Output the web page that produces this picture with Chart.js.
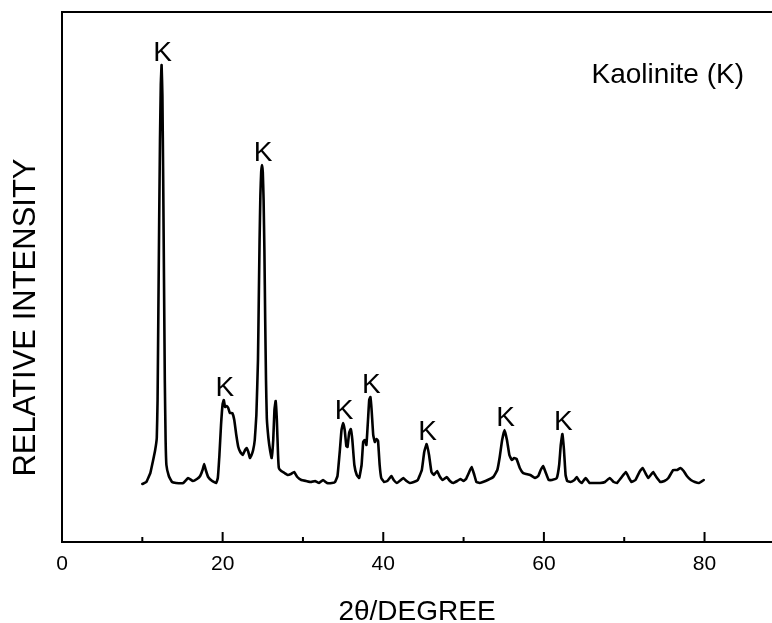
<!DOCTYPE html>
<html>
<head>
<meta charset="utf-8">
<script src="https://cdn.jsdelivr.net/npm/chart.js@4.4.1/dist/chart.umd.min.js"></script>
<style>
  body { margin: 0; background: #fff; }
  canvas { display: block; }
</style>
</head>
<body>
<canvas id="xrdChart" width="772" height="623"></canvas>
<script>
// 2θ positions (degrees) and relative intensity (arbitrary units)
const twoTheta = [
  10.0, 10.5, 11.0, 11.3, 11.6, 11.8, 11.9, 12.0, 12.1, 12.2, 12.3, 12.4, 12.5, 12.6, 12.7, 12.8, 12.9, 13.0, 13.3, 13.7,
  14.2, 15.1, 15.7, 16.3, 16.8, 17.2, 17.5, 17.7, 17.9, 18.2, 18.7, 19.2, 19.4, 19.6, 19.8, 20.0, 20.15, 20.3, 20.5, 20.7,
  20.9, 21.2, 21.45, 21.7, 21.95, 22.2, 22.5, 22.8, 23.0, 23.2, 23.4, 23.6, 23.8, 24.0, 24.2, 24.4, 24.5, 24.6, 24.7, 24.8,
  24.9, 25.0, 25.1, 25.2, 25.3, 25.4, 25.5, 25.7, 25.9, 26.1, 26.3, 26.45, 26.6, 26.75, 26.9, 27.0, 27.3, 27.7, 28.1, 28.5,
  28.9, 29.3, 29.8, 30.4, 31.0, 31.5, 32.0, 32.5, 33.0, 33.6, 34.0, 34.3, 34.6, 34.8, 35.0, 35.2, 35.4, 35.55, 35.75, 35.95,
  36.15, 36.4, 36.7, 37.0, 37.3, 37.5, 37.7, 37.9, 38.1, 38.25, 38.4, 38.55, 38.75, 38.95, 39.15, 39.35, 39.55, 39.75, 40.1, 40.5,
  40.8, 41.0, 41.3, 41.7, 42.2, 42.5, 42.9, 43.3, 43.8, 44.3, 44.8, 45.1, 45.4, 45.7, 46.0, 46.3, 46.7, 47.0, 47.4, 47.9,
  48.3, 48.7, 49.2, 49.6, 50.0, 50.3, 50.7, 51.0, 51.3, 51.6, 52.0, 52.4, 53.0, 53.7, 54.2, 54.5, 54.8, 55.1, 55.4, 55.7,
  56.0, 56.3, 56.6, 57.0, 57.4, 57.8, 58.3, 58.9, 59.3, 59.6, 59.9, 60.2, 60.6, 61.0, 61.6, 61.9, 62.1, 62.3, 62.5, 62.7,
  62.9, 63.3, 63.8, 64.1, 64.4, 64.7, 65.2, 65.7, 66.3, 67.0, 67.6, 68.2, 68.7, 69.1, 69.6, 70.2, 70.6, 70.9, 71.4, 71.9,
  72.3, 72.7, 73.0, 73.3, 73.6, 74.0, 74.5, 75.0, 75.5, 76.1, 76.6, 77.0, 77.4, 77.8, 78.3, 78.8, 79.3, 79.9
];
const intensity = [
  58, 60, 69, 80, 92, 104, 142, 232, 322, 402, 457, 477, 447, 362, 262, 162, 102, 77, 66, 60,
  59, 59, 64, 61, 63, 66, 72, 78, 72, 65, 61, 59, 64, 87, 117, 138, 142, 135, 136, 134,
  129, 129, 122, 107, 95, 90, 87, 92, 94, 90, 84, 87, 92, 102, 127, 182, 242, 302, 347, 370,
  377, 370, 342, 292, 222, 162, 124, 104, 92, 84, 102, 132, 141, 122, 87, 74, 71, 69, 67, 68,
  70, 65, 62, 61, 60, 61, 59, 62, 59, 59, 60, 66, 92, 112, 119, 112, 96, 95, 109, 113,
  102, 77, 67, 64, 77, 100, 102, 97, 122, 142, 145, 132, 107, 100, 103, 101, 77, 64, 60, 61,
  64, 66, 62, 59, 62, 64, 61, 59, 60, 62, 72, 90, 98, 87, 70, 67, 71, 66, 62, 65,
  61, 59, 61, 63, 61, 63, 70, 75, 68, 60, 59, 60, 62, 65, 72, 85, 102, 112, 102, 87,
  82, 84, 83, 74, 69, 68, 67, 64, 66, 72, 76, 70, 62, 62, 64, 77, 97, 108, 92, 67,
  61, 60, 62, 65, 61, 59, 64, 59, 59, 59, 60, 64, 60, 59, 64, 70, 64, 60, 62, 70,
  74, 68, 64, 67, 70, 65, 60, 61, 64, 72, 72, 74, 71, 66, 62, 60, 59, 62
];
// peaks marked "K" (kaolinite)
const kPeaks = [12.4, 20.15, 24.9, 35.0, 38.4, 45.4, 55.1, 62.3];
const xTickValues = [0, 10, 20, 30, 40, 50, 60, 70, 80];

const FONT = "'Liberation Sans', Arial, sans-serif";

// frame, inward ticks and peak labels
const frameLabels = {
  id: "frameLabels",
  afterDraw(chart) {
    const { ctx, chartArea: a, scales } = chart;
    const xs = scales.x, ys = scales.y;
    ctx.save();
    ctx.strokeStyle = "#000";
    ctx.lineWidth = 2;
    ctx.beginPath();
    ctx.moveTo(a.right + 2, a.top);
    ctx.lineTo(a.left, a.top);
    ctx.lineTo(a.left, a.bottom);
    ctx.lineTo(a.right + 2, a.bottom);
    ctx.stroke();

    xTickValues.forEach((v) => {
      const px = xs.getPixelForValue(v);
      const len = v % 20 === 0 ? 10 : 5;
      ctx.beginPath();
      ctx.moveTo(px, a.bottom);
      ctx.lineTo(px, a.bottom - len);
      ctx.stroke();
    });

    ctx.fillStyle = "#000";
    ctx.font = "28px " + FONT;
    ctx.textAlign = "center";
    ctx.textBaseline = "alphabetic";
    kPeaks.forEach((p) => {
      const i = twoTheta.indexOf(p);
      const px = xs.getPixelForValue(p);
      const py = ys.getPixelForValue(intensity[i]);
      ctx.fillText("K", px + 1, py - 4);
    });

    ctx.textAlign = "right";
    ctx.fillText("Kaolinite (K)", a.right - 28, a.top + 71);
    ctx.restore();
  },
};

new Chart(document.getElementById("xrdChart"), {
  type: "line",
  data: {
    datasets: [
      {
        data: twoTheta.map((t, i) => ({ x: t, y: intensity[i] })),
        borderColor: "#000",
        borderWidth: 2.6,
        borderJoinStyle: "round",
        borderCapStyle: "round",
        pointRadius: 0,
        tension: 0.1,
        fill: false,
      },
    ],
  },
  options: {
    responsive: false,
    animation: false,
    layout: { padding: { top: 12 } },
    plugins: {
      legend: { display: false },
      tooltip: { enabled: false },
      title: {
        display: true,
        position: "left",
        text: "RELATIVE INTENSITY",
        color: "#000",
        font: { family: FONT, size: 31, weight: "normal" },
        padding: { top: 7.4, bottom: 17.4 },
      },
    },
    scales: {
      x: {
        type: "linear",
        min: 0,
        max: 88.4,
        grid: { display: false, drawTicks: false },
        border: { display: false },
        ticks: {
          stepSize: 10,
          includeBounds: false,
          autoSkip: false,
          maxRotation: 0,
          padding: 10,
          color: "#000",
          font: { family: FONT, size: 21 },
          callback: (v) => (v % 20 === 0 ? v : ""),
        },
        title: {
          display: true,
          text: "2θ/DEGREE",
          color: "#000",
          font: { family: FONT, size: 28, lineHeight: 0.8 },
          padding: { top: 13.4, bottom: 0 },
        },
      },
      y: {
        display: false,
        min: 0,
        max: 530,
      },
    },
  },
  plugins: [frameLabels],
});
</script>
</body>
</html>
